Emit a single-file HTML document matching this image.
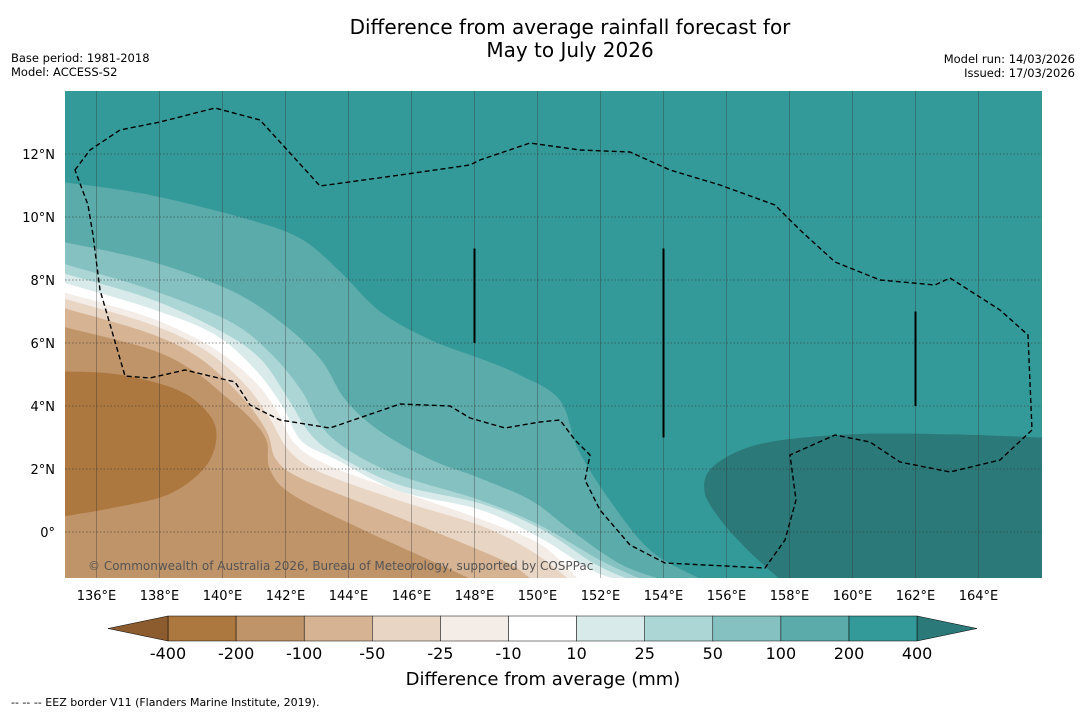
<!DOCTYPE html>
<html><head><meta charset="utf-8"><style>
body{margin:0;background:#fff;width:1085px;height:713px;overflow:hidden;font-family:"Liberation Sans","DejaVu Sans",sans-serif}
</style></head><body>
<svg id="s" width="1085" height="713" viewBox="0 0 1085 713" xmlns="http://www.w3.org/2000/svg">
<text x="570" y="34" text-anchor="middle" font-size="20" font-family="DejaVu Sans, sans-serif">Difference from average rainfall forecast for</text>
<text x="570" y="57" text-anchor="middle" font-size="20" font-family="DejaVu Sans, sans-serif">May to July 2026</text>
<text x="11" y="62" font-size="11.5" font-family="DejaVu Sans, sans-serif">Base period: 1981-2018</text>
<text x="11" y="76" font-size="11.5" font-family="DejaVu Sans, sans-serif">Model: ACCESS-S2</text>
<text x="1075" y="63" text-anchor="end" font-size="11.5" font-family="DejaVu Sans, sans-serif">Model run: 14/03/2026</text>
<text x="1075" y="77" text-anchor="end" font-size="11.5" font-family="DejaVu Sans, sans-serif">Issued: 17/03/2026</text>
<defs><clipPath id="mc"><rect x="65" y="91" width="977" height="487"/></clipPath></defs>
<g id="map" clip-path="url(#mc)"></g>
<g id="axes"></g>
<g id="cbar"></g>
<text x="543" y="685" text-anchor="middle" font-size="18" font-family="DejaVu Sans, sans-serif">Difference from average (mm)</text>
<text x="11" y="706" font-size="11" font-family="DejaVu Sans, sans-serif">--  --  -- EEZ border V11 (Flanders Marine Institute, 2019).</text>
</svg>
<script>
const levels=[-400,-200,-100,-50,-25,-10,10,25,50,100,200,400];
const levelColors=["#ad7840","#c09469","#d5b393","#e8d5c3","#f4ece6","#ffffff","#d8ebea","#abd6d5","#86c1c1","#5aabaa","#349a99"];
const lonTicks=[136,138,140,142,144,146,148,150,152,154,156,158,160,162,164];
const latTicks=[12,10,8,6,4,2,0];
const c200=[[135,11.1],[137.7,10.7],[140.9,9.9],[142.5,9.3],[143.7,8.3],[145,7.0],[146.6,6.1],[148.2,5.5],[149.4,5.0],[150.7,4.2],[151.3,2.6],[152.3,1.0],[153.6,-0.6],[155.2,-1.5]];
const c100=[[135,9.2],[137.7,8.6],[140.2,7.7],[141.8,6.7],[143.1,5.5],[143.9,4.2],[145,3.2],[146.6,2.3],[148.2,1.7],[149.8,1.0],[151,0.1],[152.6,-1.0],[153.9,-1.5]];
const c50=[[135,8.5],[137.7,7.7],[140.2,6.7],[141.5,5.7],[142.5,4.5],[143.1,3.4],[144,2.6],[145.6,1.8],[148.2,1.0],[150.1,0.2],[152,-0.9],[153.3,-1.5]];
const c25=[[135,8.2],[137.7,7.4],[139.9,6.4],[141.2,5.5],[142.1,4.2],[142.8,3.1],[143.7,2.4],[145.6,1.5],[148.2,0.9],[150.1,0.1],[151.8,-1.0],[152.9,-1.5]];
const c10=[[135,7.9],[137.7,7.1],[139.7,6.3],[141,5.2],[141.9,4.0],[142.5,2.9],[143.6,2.3],[145.6,1.3],[148.2,0.7],[150.1,-0.2],[151.7,-1.2],[152.5,-1.5]];
const cm10=[[135,7.6],[137.7,6.8],[139.6,5.9],[140.9,4.9],[141.7,3.9],[142.3,2.8],[143.4,2.1],[145.6,1.3],[148.2,0.4],[150.1,-0.4],[151.3,-1.5]];
const cm25=[[135,7.4],[137.7,6.6],[139.4,5.8],[140.7,4.7],[141.5,3.6],[142.1,2.6],[143.1,1.9],[145.6,1.0],[148.2,0.2],[149.8,-0.6],[151,-1.5]];
const cm50=[[135,7.1],[137.7,6.3],[139.3,5.5],[140.6,4.3],[141.4,3.2],[141.7,2.3],[142.5,1.7],[145,0.7],[147.5,-0.3],[149.1,-1.0],[149.8,-1.5]];
const cm100=[[135,6.5],[137.7,5.8],[139.1,5.1],[140.1,4.3],[140.9,3.6],[141.4,2.9],[141.5,2.0],[142.2,1.2],[144.4,0.1],[146.6,-0.9],[147.9,-1.5]];
const cm200=[[135,5.1],[136.7,5.0],[138.6,4.5],[139.6,3.7],[139.8,2.9],[139.4,2.0],[138.3,1.2],[136.7,0.8],[135,0.5]];
const c400=[[166,3.0],[163.1,3.1],[159.9,3.1],[157.1,2.8],[155.6,2.1],[155.3,1.3],[155.8,0.4],[156.7,-0.6],[157.7,-1.5],[166,-1.5]];
const NS="http://www.w3.org/2000/svg";
const X=lon=>65+(lon-135)*31.5, Y=lat=>91+(14-lat)*31.5;
function mk(t,a,p){const e=document.createElementNS(NS,t);for(const k in a)e.setAttribute(k,a[k]);p.appendChild(e);return e;}
function smooth(pts){ // catmull-rom through projected points
 const P=pts.map(q=>[X(q[0]),Y(q[1])]);
 let d='M'+P[0][0]+','+P[0][1];
 for(let i=0;i<P.length-1;i++){
  const p0=P[Math.max(0,i-1)],p1=P[i],p2=P[i+1],p3=P[Math.min(P.length-1,i+2)];
  const c1=[p1[0]+(p2[0]-p0[0])/6,p1[1]+(p2[1]-p0[1])/6];
  const c2=[p2[0]-(p3[0]-p1[0])/6,p2[1]-(p3[1]-p1[1])/6];
  d+=` C${c1[0]},${c1[1]} ${c2[0]},${c2[1]} ${p2[0]},${p2[1]}`;
 }
 return d;
}
const map=document.getElementById('map'),axes=document.getElementById('axes'),cb=document.getElementById('cbar');
let r=mk('rect',{x:65,y:91,width:977,height:487,fill:levelColors[10]},map);


const layers=[[c200,9,'band-100-200'],[c100,8,'band-50-100'],[c50,7,'band-25-50'],[c25,6,'band-10-25'],[c10,5,'band-neutral'],[cm10,4,'band-m25-m10'],[cm25,3,'band-m50-m25'],[cm50,2,'band-m100-m50'],[cm100,1,'band-m200-m100']];
layers.forEach(([pts,ci,nm])=>{
 const last=pts[pts.length-1];
 const d=smooth(pts)+` L${X(last[0])},600 L40,600 L40,${Y(pts[0][1])} Z`;
 const p=mk('path',{d:d,fill:levelColors[ci]},map);
 
 
});
let p1=mk('path',{d:smooth(cm200)+` L40,${Y(cm200[cm200.length-1][1])} L40,${Y(cm200[0][1])} Z`,fill:levelColors[0]},map);


let p2=mk('path',{d:smooth(c400.slice(0,9))+` L${X(157.7)},600 L1060,600 L1060,${Y(3.0)} Z`,fill:'#2b7979'},map);


lonTicks.forEach(l=>{
 let g=mk('line',{x1:X(l),x2:X(l),y1:91,y2:578,stroke:'#333',"stroke-width":0.6,opacity:0.6},map);
 
 
 let t=mk('text',{x:X(l),y:600,"text-anchor":"middle","font-size":13,"font-family":"DejaVu Sans, sans-serif"},axes);t.textContent=l+'°E';
 
 
});
latTicks.forEach(l=>{
 let g=mk('line',{x1:65,x2:1042,y1:Y(l),y2:Y(l),stroke:'#333',"stroke-width":0.8,"stroke-dasharray":"1.5,2",opacity:0.7},map);
 
 
 let t=mk('text',{x:55,y:Y(l)+5,"text-anchor":"end","font-size":13,"font-family":"DejaVu Sans, sans-serif"},axes);t.textContent=l===0?'0°':l+'°N';
 
 
});
[[148,9,6],[154,9,3],[162,7,4]].forEach(s=>{
 let l=mk('line',{x1:X(s[0]),x2:X(s[0]),y1:Y(s[1]),y2:Y(s[2]),stroke:'#000',"stroke-width":2},map);
 
 
});
let eez=mk('path',{d:"M75,170 L90,150 120,130 160,122 215,108 260,120 320,186 400,175 470,165 480,160 530,143 580,150 630,152 670,170 720,185 775,205 800,230 835,262 880,280 935,285 950,278 1000,310 1028,335 1032,430 1000,460 950,472 900,462 870,442 835,435 790,455 796,500 785,540 765,568 665,563 630,545 600,510 585,480 590,455 575,440 560,420 540,422 505,428 470,418 450,406 400,404 330,428 280,420 250,405 235,382 185,370 150,378 125,376 100,290 93,235 88,205 Z",fill:"none",stroke:"#000","stroke-width":1.4,"stroke-dasharray":"5,3"},map);


let cp=mk('text',{x:88,y:570,"font-size":12,fill:"#555","font-family":"DejaVu Sans, sans-serif"},map);cp.textContent='© Commonwealth of Australia 2026, Bureau of Meteorology, supported by COSPPac';


const cbX0=168,cbW=68.1,cbY=616,cbH=25;
levelColors.forEach((c,i)=>{
 let b=mk('rect',{x:cbX0+i*cbW,y:cbY,width:cbW,height:cbH,fill:c,stroke:'#000',"stroke-width":0.5},cb);
 
 
});
let lt=mk('polygon',{points:`108,628.5 ${cbX0},${cbY} ${cbX0},${cbY+cbH}`,fill:'#8c5c2f',stroke:'#000',"stroke-width":0.5},cb);


const xe=cbX0+11*cbW;
let rt=mk('polygon',{points:`${xe},${cbY} 977,628.5 ${xe},${cbY+cbH}`,fill:'#2b7979',stroke:'#000',"stroke-width":0.5},cb);


levels.forEach((v,i)=>{
 let t=mk('text',{x:cbX0+i*cbW,y:659,"text-anchor":"middle","font-size":16,"font-family":"DejaVu Sans, sans-serif"},cb);t.textContent=v;
 
 
});
</script>
</body></html>
